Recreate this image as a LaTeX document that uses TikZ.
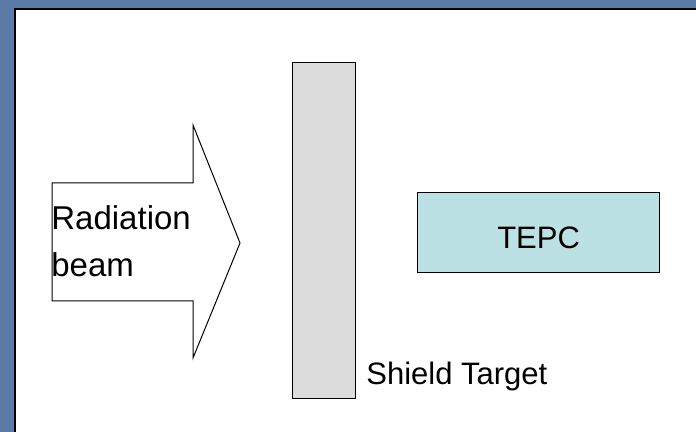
\documentclass[tikz,border=0pt]{standalone}
\usepackage{fontspec}
\setmainfont{Liberation Sans}
\usepackage{xcolor}
\usetikzlibrary{positioning}

\definecolor{slide}{HTML}{5B7CA6}
\definecolor{shieldgray}{HTML}{DCDCDC}
\definecolor{tepccyan}{HTML}{BCE1E4}

\begin{document}
\begin{tikzpicture}[x=0.5pt, y=-0.5pt,
    blk/.style={draw, line width=0.6pt, inner sep=0pt, anchor=north west},
    shld/.style={blk, fill=shieldgray, minimum width=31.5pt, minimum height=168pt},
    det/.style={blk, fill=tepccyan, minimum width=121pt, minimum height=40pt,
                text height=16pt, font=\fontsize{15.5}{18}\selectfont},
    lbl/.style={inner sep=0pt, font=\fontsize{15.5}{23.5}\selectfont},
    beam/.style={draw, line width=0.5pt, fill=white, line join=miter}
  ]
  \useasboundingbox (0,0) rectangle (696,432);
  \fill[slide] (0,0) rectangle (696,432);
  \fill[white] (15,9) rectangle (696,432);
  \draw[line width=1pt] (696,9) -- (15,9) -- (15,432);

  % radiation beam arrow
  \coordinate (tip) at (240,243);
  \draw[beam] (52,183) -- (193,183) -- (193,125) -- (tip) -- (193,358)
    -- (193,301) -- (52,301) -- cycle;
  \node[lbl, font=\fontsize{16.5}{23.5}\selectfont, anchor=base west, align=left]
    (rad) at (51,277) {Radiation\\beam};

  \node[shld] (shield) at (292,62) {};
  \node[lbl, anchor=base west] (shieldlbl) at (366,385) {Shield Target};

  \node[det] (tepc) at (417,192) {TEPC};
\end{tikzpicture}
\end{document}
